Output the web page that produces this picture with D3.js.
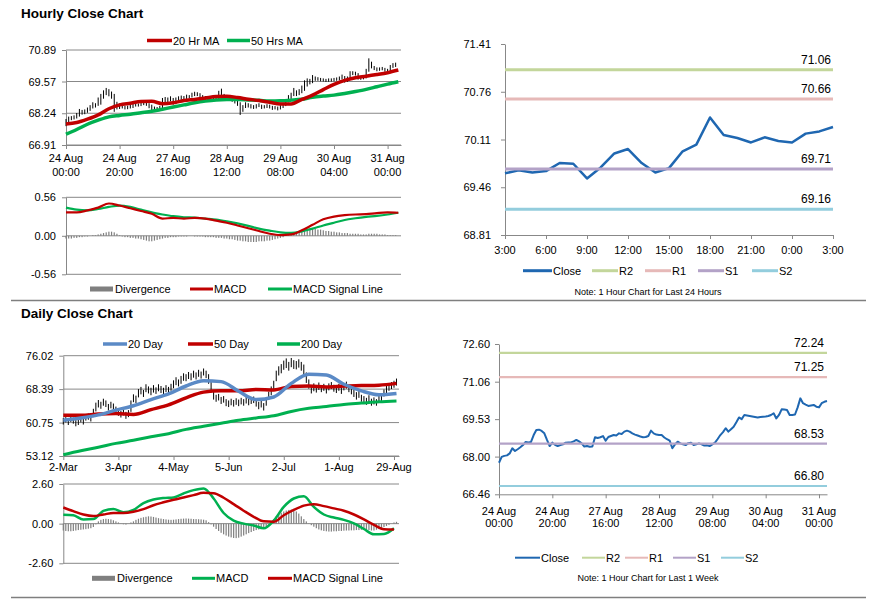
<!DOCTYPE html>
<html lang="en">
<head>
<meta charset="UTF-8">
<title>Hourly and Daily Close Charts</title>
<style>
  body { margin: 0; background: #fff; }
  text { font-family: "Liberation Sans", Arial, sans-serif; fill: #000; }
</style>
</head>
<body>
<script src="https://d3js.org/d3.v7.min.js"></script>
<script>
// ---- hourly data (last week, one value per hour) ----
const hourTickIdx = [0, 20, 40, 60, 80, 100, 120]
const hourTickLabels = [['24 Aug', '00:00'], ['24 Aug', '20:00'], ['27 Aug', '16:00'], ['28 Aug', '12:00'],
  ['29 Aug', '08:00'], ['30 Aug', '04:00'], ['31 Aug', '00:00']]
const hourPriceTicks = [66.91, 68.24, 69.57, 70.89]
const hourMacdTicks = [-0.56, 0, 0.56]

const hourClose = [67.75,67.99,68.03,68.05,68.13,68.34,68.23,68.30,68.38,68.47,
  68.60,68.58,68.60,68.88,69.09,69.10,69.05,68.95,68.68,68.43,
  68.57,68.48,68.43,68.47,68.50,68.57,68.58,68.58,68.62,68.68,
  68.62,68.54,68.41,68.43,68.40,68.41,68.79,68.76,68.79,68.84,
  68.65,68.80,68.84,68.88,68.86,68.95,68.92,69.02,69.06,69.02,
  68.95,68.90,68.86,68.82,68.79,68.80,68.84,69.06,68.95,68.90,
  68.88,68.88,68.78,68.71,68.65,68.34,68.50,68.61,68.54,68.50,
  68.47,68.55,68.57,68.47,68.50,68.54,68.50,68.45,68.46,68.43,
  68.50,68.57,68.72,68.88,69.00,69.16,69.02,69.12,69.22,69.40,
  69.60,69.53,69.70,69.68,69.66,69.64,69.62,69.60,69.62,69.63,
  69.64,69.66,69.70,69.77,69.56,69.70,69.93,69.92,69.90,69.70,
  69.70,69.72,70.01,70.38,70.18,70.12,70.07,70.09,70.11,70.04,
  70.01,70.18,70.24,70.27]
const hourHigh = [68.00,68.10,68.12,68.15,68.25,68.42,68.38,68.40,68.48,68.58,
  68.70,68.66,68.90,69.05,69.20,69.30,69.25,69.15,69.05,68.72,
  68.65,68.62,68.55,68.56,68.60,68.64,68.66,68.65,68.70,68.74,
  68.72,68.66,68.60,68.52,68.50,68.55,68.88,68.92,68.90,68.95,
  68.88,68.90,68.95,68.98,68.96,69.02,69.00,69.10,69.14,69.12,
  69.08,69.00,68.96,68.92,68.88,68.90,68.95,69.18,69.27,69.05,
  69.00,68.98,68.92,68.85,68.78,68.70,68.58,68.70,68.66,68.62,
  68.58,68.62,68.66,68.60,68.58,68.62,68.60,68.55,68.54,68.52,
  68.58,68.66,68.82,69.00,69.10,69.30,69.20,69.25,69.40,69.62,
  69.70,69.68,69.84,69.78,69.75,69.72,69.70,69.68,69.70,69.70,
  69.72,69.74,69.78,69.86,69.80,69.78,70.00,70.00,69.98,69.92,
  69.80,69.82,70.10,70.54,70.40,70.22,70.16,70.16,70.18,70.14,
  70.10,70.26,70.34,70.36]
const hourLow = [67.70,67.80,67.95,67.98,68.02,68.10,68.18,68.20,68.26,68.34,
  68.44,68.48,68.55,68.60,68.85,69.00,68.95,68.85,68.30,68.40,
  68.42,68.44,68.40,68.41,68.44,68.46,68.52,68.52,68.54,68.58,
  68.55,68.45,68.36,68.37,68.35,68.38,68.40,68.68,68.70,68.74,
  68.60,68.62,68.76,68.80,68.80,68.84,68.86,68.90,68.96,68.96,
  68.90,68.84,68.80,68.78,68.74,68.74,68.76,68.82,68.90,68.85,
  68.82,68.80,68.72,68.65,68.55,68.17,68.30,68.46,68.48,68.44,
  68.42,68.44,68.50,68.42,68.44,68.46,68.44,68.38,68.40,68.36,
  68.40,68.46,68.54,68.70,68.84,68.96,68.96,69.00,69.08,69.18,
  69.36,69.45,69.50,69.60,69.60,69.58,69.57,69.55,69.56,69.57,
  69.58,69.60,69.62,69.66,69.52,69.55,69.68,69.84,69.82,69.65,
  69.64,69.66,69.70,69.98,70.12,70.05,70.00,70.02,70.04,69.98,
  69.96,70.00,70.14,70.18]

// moving averages and MACD sampled every 4 hours
const hourStep = 4
const hourMa20 = [67.79,67.85,67.99,68.17,68.43,68.59,68.66,68.73,68.74,68.64,68.68,68.77,68.82,68.88,68.94,68.95,
  68.90,68.83,68.77,68.70,68.63,68.63,68.82,69.00,69.23,69.45,69.62,69.73,69.79,69.86,69.94,70.05]
const hourMa50 = [67.36,67.56,67.78,67.95,68.09,68.15,68.20,68.26,68.32,68.41,68.50,68.59,68.68,68.75,68.80,68.82,
  68.82,68.80,68.78,68.75,68.76,68.79,68.83,68.91,68.96,69.00,69.07,69.15,69.24,69.35,69.46,69.56]
const hourMacd = [0.34,0.34,0.37,0.41,0.47,0.44,0.40,0.36,0.32,0.25,0.26,0.25,0.26,0.25,0.22,0.19,
  0.15,0.11,0.07,0.03,0.01,0.02,0.08,0.16,0.24,0.28,0.30,0.31,0.315,0.33,0.34,0.335]
const hourSignal = [0.41,0.38,0.37,0.39,0.42,0.44,0.42,0.38,0.34,0.31,0.285,0.27,0.265,0.25,0.235,0.21,
  0.18,0.145,0.105,0.075,0.05,0.042,0.065,0.105,0.15,0.19,0.23,0.255,0.275,0.29,0.31,0.335]
const hourDiv = [-0.04,-0.04,-0.04,-0.03,-0.03,-0.02,-0.02,-0.01,
  -0.01,0.00,0.01,0.01,
  0.02,0.03,0.04,0.05,0.06,0.06,0.05,0.03,
  0.01,-0.01,-0.02,-0.02,-0.03,-0.03,-0.04,-0.04,
  -0.05,-0.06,-0.07,-0.08,-0.08,-0.07,-0.06,-0.05,
  -0.04,-0.03,-0.03,-0.02,-0.02,-0.02,-0.01,-0.01,
  -0.01,-0.01,0.00,0.00,-0.01,-0.01,-0.01,-0.01,
  -0.02,-0.02,-0.02,-0.02,-0.03,-0.03,-0.03,-0.04,
  -0.04,-0.05,-0.05,-0.06,-0.07,-0.07,-0.08,-0.08,
  -0.09,-0.09,-0.09,-0.09,-0.08,-0.08,-0.08,-0.07,
  -0.07,-0.06,-0.05,-0.04,-0.03,-0.02,0.00,0.02,
  0.03,0.04,0.05,0.06,0.07,0.08,0.09,0.09,
  0.10,0.10,0.09,0.09,0.08,0.07,0.07,0.06,
  0.06,0.05,0.05,0.04,0.04,0.04,0.03,0.03,
  0.03,0.03,0.02,0.02,0.02,0.03,0.03,0.03,
  0.03,0.02,0.02,0.02,0.01,0.01,0.01,0.01]

// ---- daily data ----
const dayTickIdx = [0, 22, 44, 66, 88, 110, 132]
const dayTickLabels = ['2-Mar', '3-Apr', '4-May', '5-Jun', '2-Jul', '1-Aug', '29-Aug']
const dayPriceTicks = [53.12, 60.75, 68.39, 76.02]
const dayMacdTicks = [-2.6, 0, 2.6]

const dayHigh = [61.8,62.0,61.6,62.3,61.9,61.3,61.6,62.1,61.7,62.6,
  62.8,62.3,63.9,65.3,65.9,65.5,66.2,65.8,65.0,65.5,
  65.1,64.4,63.8,63.4,63.9,63.2,63.6,65.8,67.2,66.9,
  68.4,68.9,68.2,69.5,69.0,68.7,69.3,68.8,69.5,69.1,
  68.7,69.3,68.9,69.6,70.4,71.1,70.6,71.4,72.0,71.8,
  72.3,72.0,72.6,72.2,72.8,72.4,73.1,72.6,71.8,70.2,
  68.0,67.1,67.3,66.6,66.8,66.1,65.8,66.2,65.9,66.3,
  66.0,66.4,66.1,66.6,66.2,66.5,66.7,66.0,65.5,65.8,
  65.2,66.4,67.8,69.0,70.3,72.6,73.6,74.1,74.9,75.4,
  74.6,75.5,75.0,74.8,75.2,74.6,74.0,72.2,70.6,69.2,
  69.7,69.3,69.9,69.3,69.6,69.1,69.7,70.0,69.4,69.2,
  69.6,69.0,69.7,70.1,69.3,68.8,68.3,67.7,68.0,67.1,
  66.8,66.4,67.0,66.2,66.5,66.1,66.8,67.3,68.3,69.1,
  69.6,70.0,70.3,70.8]
const dayLow = [60.3,60.8,60.2,60.9,60.5,59.9,60.2,60.8,60.3,61.2,
  61.4,61.0,62.0,63.3,64.2,63.9,64.6,64.3,63.5,64.0,
  63.6,62.8,62.3,61.9,62.4,61.6,62.0,63.2,65.4,65.2,
  66.5,67.2,66.6,67.7,67.4,67.0,67.6,67.3,67.9,67.5,
  67.1,67.7,67.3,68.0,68.6,69.3,69.0,69.6,70.3,70.2,
  70.7,70.4,71.0,70.6,71.2,70.8,71.5,70.9,69.6,67.6,
  66.0,65.5,65.8,65.0,65.3,64.5,64.3,64.7,64.4,64.8,
  64.5,64.9,64.6,65.1,64.7,65.0,65.2,64.4,63.8,64.2,
  63.5,64.6,65.9,67.0,68.2,70.2,71.5,72.0,72.8,73.2,
  72.6,73.4,73.0,72.9,73.3,72.6,71.5,69.8,68.5,67.4,
  67.9,67.6,68.2,67.7,68.0,67.4,68.1,68.4,67.8,67.5,
  68.0,67.3,68.1,68.5,67.7,67.2,66.6,66.0,66.4,65.5,
  65.2,64.8,65.4,64.6,64.9,64.6,65.3,65.7,66.7,67.5,
  68.0,68.4,68.7,69.2]

// moving averages sampled every 7 days, MACD every 4 days
const dayMaStep = 7
const dayMa20 = [61.3,61.8,62.5,63.6,64.6,66.0,67.3,69.1,70.3,70.1,67.9,66.0,66.6,69.7,71.8,71.6,69.5,68.0,67.1,67.4]
const dayMa50 = [62.4,62.4,62.7,62.8,62.6,63.7,64.8,66.4,67.7,68.0,68.0,68.3,68.2,69.0,69.1,68.9,69.1,69.2,69.3,69.7]
const dayMa200 = [53.4,54.3,55.1,56.0,56.7,57.5,58.2,59.2,59.9,60.6,61.3,61.8,62.3,63.3,64.0,64.4,64.9,65.2,65.5,65.7]
const dayMacdStep = 4
const dayMacd = [0.59,0.55,0.28,0.30,0.84,0.96,0.75,0.90,1.35,1.58,
  1.68,1.72,1.98,2.20,2.31,1.65,0.70,0.20,0.00,-0.12,
  -0.30,0.20,1.10,1.65,1.80,1.10,0.60,0.40,0.25,0.02,
  -0.35,-0.70,-0.68,-0.30]
const daySignal = [1.06,0.82,0.60,0.50,0.60,0.70,0.70,0.78,0.95,1.21,
  1.40,1.57,1.72,1.87,2.02,2.00,1.70,1.28,0.85,0.45,
  0.15,0.12,0.55,0.90,1.18,1.28,1.15,1.00,0.85,0.60,
  0.28,-0.08,-0.36,-0.38]
const dayDiv = [-0.45,-0.48,-0.50,-0.50,-0.48,-0.45,-0.42,-0.40,-0.38,-0.36,-0.33,-0.30,-0.22,
  -0.05,0.15,0.25,0.30,0.32,0.30,0.28,0.22,
  0.15,0.08,0.02,-0.04,-0.06,0.00,0.08,0.15,
  0.25,0.32,0.38,0.42,0.45,0.48,0.47,0.44,0.40,0.36,0.33,0.30,
  0.28,0.26,0.25,0.26,0.28,0.30,0.32,0.33,0.34,0.33,0.32,0.30,0.30,0.29,0.28,0.26,0.22,
  0.10,-0.05,-0.20,
  -0.35,-0.48,-0.60,-0.70,-0.78,-0.85,-0.90,-0.94,-0.95,-0.92,-0.85,-0.78,-0.70,-0.62,-0.55,-0.48,-0.42,-0.38,-0.34,-0.28,-0.20,-0.08,
  0.10,0.30,0.48,0.62,0.72,0.80,0.86,0.90,0.92,0.88,0.80,0.66,0.48,
  0.30,0.15,0.02,-0.10,-0.20,
  -0.30,-0.38,-0.44,-0.48,-0.50,-0.52,-0.52,-0.50,-0.50,-0.48,-0.48,-0.46,-0.45,-0.45,-0.44,-0.44,-0.42,-0.42,-0.40,-0.40,
  -0.40,-0.42,-0.45,-0.45,-0.40,-0.36,-0.30,
  -0.22,-0.15,-0.08,0.00,0.08,0.12]

// ---- last 24 hours ----
const dayHourLabels = ['3:00', '6:00', '9:00', '12:00', '15:00', '18:00', '21:00', '0:00', '3:00']
const dayHourTicks = [68.81, 69.46, 70.11, 70.76, 71.41]
const lastDayClose = [69.65,69.69,69.66,69.68,69.79,69.78,69.58,69.73,69.92,69.98,69.79,69.66,69.72,
  69.95,70.04,70.41,70.17,70.13,70.07,70.14,70.09,70.07,70.19,70.22,70.28]
const dayLevelNames = ['R2', 'R1', 'S1', 'S2']
const dayLevels = [71.06, 70.66, 69.71, 69.16]

// ---- last week levels ----
const weekTicks = [66.46, 68.00, 69.53, 71.06, 72.60]
const weekLevels = [72.24, 71.25, 68.53, 66.80]

// ---- styling ----
const font = '"Liberation Sans", Arial, sans-serif'
const gridColor = '#888'
const red = '#c00000'
const green = '#00b050'
const blue20 = '#5b8ac6'
const divGrey = '#7f7f7f'
const closeBlue = '#1f67b1'
const levelColors = ['#c3d69b', '#e6b9b8', '#b3a2c7', '#93cddd']

const svg = d3.select('body').append('svg')
  .attr('width', 873)
  .attr('height', 601)

function txt(x, y, s, size, anchor, weight) {
  return svg.append('text')
    .attr('x', x).attr('y', y)
    .attr('font-size', size || 11)
    .attr('text-anchor', anchor || 'start')
    .attr('font-weight', weight || 'normal')
    .text(s)
}

function gridY(y, ticks, x0, x1) {
  svg.append('g').selectAll('line').data(ticks).enter().append('line')
    .attr('x1', x0).attr('x2', x1)
    .attr('y1', d => y(d)).attr('y2', d => y(d))
    .attr('stroke', gridColor)
}

function leftAxis(y, x0, ticks, pad) {
  const g = svg.append('g')
    .attr('transform', `translate(${x0},0)`)
    .call(d3.axisLeft(y).tickValues(ticks).tickFormat(d => d.toFixed(2))
      .tickSize(4).tickSizeOuter(0).tickPadding(pad))
  g.attr('font-family', font).attr('font-size', 11)
  g.selectAll('line, path').attr('stroke', gridColor)
  g.selectAll('text').attr('fill', '#000')
}

function bottomAxis(x, yPos, ticks) {
  const g = svg.append('g')
    .attr('transform', `translate(0,${yPos})`)
    .call(d3.axisBottom(x).tickValues(ticks).tickSize(4).tickSizeOuter(0).tickFormat(''))
  g.selectAll('line, path').attr('stroke', gridColor)
  g.selectAll('.tick text').remove()
}

function lineSeries(data, x, y, step, color, width, curve) {
  const line = d3.line()
    .x((d, i) => x(i * step))
    .y(d => y(d))
  if (curve) line.curve(d3.curveMonotoneX)
  svg.append('path')
    .datum(data)
    .attr('d', line)
    .attr('fill', 'none')
    .attr('stroke', color)
    .attr('stroke-width', width)
    .attr('stroke-linejoin', 'round')
}

function bars(high, low, x, y) {
  svg.append('g').selectAll('line').data(high).enter().append('line')
    .attr('x1', (d, i) => x(i)).attr('x2', (d, i) => x(i))
    .attr('y1', d => y(d)).attr('y2', (d, i) => y(low[i]))
    .attr('stroke', '#000')
    .attr('stroke-width', 1)
}

function divBars(data, x, y) {
  svg.append('g').selectAll('rect').data(data).enter().append('rect')
    .attr('x', (d, i) => x(i) - 0.6)
    .attr('width', 1.2)
    .attr('y', d => Math.min(y(0), y(d)))
    .attr('height', d => Math.abs(y(d) - y(0)))
    .attr('fill', divGrey)
}

function legendLine(x, y, w, color, label, width) {
  svg.append('line')
    .attr('x1', x).attr('x2', x + w)
    .attr('y1', y).attr('y2', y)
    .attr('stroke', color).attr('stroke-width', width)
  txt(x + w + 1, y + 4, label)
}

function legendRect(x, y, w, color, label) {
  svg.append('rect')
    .attr('x', x).attr('y', y - 2.5)
    .attr('width', w).attr('height', 5)
    .attr('fill', color)
  txt(x + w + 2, y + 4, label)
}

// ---- titles & separators ----
txt(21, 17.5, 'Hourly Close Chart', 13.5, 'start', 'bold')
txt(21, 317.5, 'Daily Close Chart', 13.5, 'start', 'bold')
;[300.5, 597.5].forEach(yy => {
  svg.append('line').attr('x1', 11).attr('x2', 866).attr('y1', yy).attr('y2', yy)
    .attr('stroke', '#7f7f7f').attr('stroke-width', 1.5)
})

// ---- hourly price ----
const xH = d3.scaleLinear().domain([0, 125]).range([66, 401])
const yH = d3.scaleLinear().domain([66.91, 70.89]).range([145, 50])
gridY(yH, hourPriceTicks, 66, 401)
leftAxis(yH, 66, hourPriceTicks, 6)
bottomAxis(xH, 145, hourTickIdx)
hourTickIdx.forEach((t, i) => {
  txt(xH(t), 162, hourTickLabels[i][0], 11, 'middle')
  txt(xH(t), 176, hourTickLabels[i][1], 11, 'middle')
})
bars(hourHigh, hourLow, xH, yH)
lineSeries(hourMa50, xH, yH, hourStep, green, 3.5, true)
lineSeries(hourMa20, xH, yH, hourStep, red, 3.5, true)
legendLine(147, 40.5, 25, red, '20 Hr MA', 3.5)
legendLine(227, 40.5, 23, green, '50 Hrs MA', 3.5)

// ---- hourly MACD ----
const yHM = d3.scaleLinear().domain([-0.56, 0.56]).range([274.3, 197.3])
gridY(yHM, hourMacdTicks, 66, 401)
leftAxis(yHM, 66, hourMacdTicks, 6)
divBars(hourDiv, xH, yHM)
lineSeries(hourSignal, xH, yHM, hourStep, green, 2.2, true)
lineSeries(hourMacd, xH, yHM, hourStep, red, 2.2, true)
legendRect(90, 289, 23, divGrey, 'Divergence')
legendLine(190, 289, 23, red, 'MACD', 3)
legendLine(268, 289, 24, green, 'MACD Signal Line', 3)

// ---- daily price ----
const xDay = d3.scaleLinear().domain([0, 134]).range([63.3, 399])
const yDay = d3.scaleLinear().domain([53.12, 76.02]).range([456, 355.7])
gridY(yDay, dayPriceTicks, 63.3, 399)
leftAxis(yDay, 63.3, dayPriceTicks, 6)
bottomAxis(xDay, 456, dayTickIdx)
dayTickIdx.forEach((t, i) => txt(xDay(t), 471, dayTickLabels[i], 11, 'middle'))
bars(dayHigh, dayLow, xDay, yDay)
lineSeries(dayMa200, xDay, yDay, dayMaStep, green, 3, true)
lineSeries(dayMa50, xDay, yDay, dayMaStep, red, 3.5, true)
lineSeries(dayMa20, xDay, yDay, dayMaStep, blue20, 3.5, true)
legendLine(103, 344, 24, blue20, '20 Day', 3.5)
legendLine(188, 344, 25, red, '50 Day', 3.5)
legendLine(277, 344, 23, green, '200 Day', 3.5)

// ---- daily MACD ----
const yDM = d3.scaleLinear().domain([-2.6, 2.6]).range([563.3, 484])
gridY(yDM, dayMacdTicks, 63.3, 399)
leftAxis(yDM, 63.3, dayMacdTicks, 6)
divBars(dayDiv, xDay, yDM)
lineSeries(dayMacd, xDay, yDM, dayMacdStep, green, 2.5, true)
lineSeries(daySignal, xDay, yDM, dayMacdStep, red, 2.5, true)
legendRect(92, 578.3, 23, divGrey, 'Divergence')
legendLine(192, 578.3, 23, green, 'MACD', 3)
legendLine(268, 578.3, 24, red, 'MACD Signal Line', 3)

// ---- last 24 hours with pivot levels ----
const xL = d3.scaleLinear().domain([0, 24]).range([505, 833])
const yL = d3.scaleLinear().domain([68.81, 71.41]).range([235, 44])
leftAxis(yL, 505, dayHourTicks, 10)
bottomAxis(xL, 235, dayHourLabels.map((d, i) => i * 3))
dayHourLabels.forEach((s, i) => txt(xL(i * 3), 254, s, 11, 'middle'))
lineSeries(lastDayClose, xL, yL, 1, closeBlue, 2.5, false)
dayLevels.forEach((v, i) => {
  svg.append('line').attr('x1', 505).attr('x2', 833).attr('y1', yL(v)).attr('y2', yL(v))
    .attr('stroke', levelColors[i]).attr('stroke-width', 3)
  txt(831, yL(v) - 6, v.toFixed(2), 12, 'end')
})
legendLine(523, 270.7, 29, closeBlue, 'Close', 3)
dayLevelNames.forEach((n, i) => legendLine([592, 645, 698, 752][i], 270.7, 26, levelColors[i], n, 3))
txt(648, 294.5, 'Note: 1 Hour Chart for Last 24 Hours', 9, 'middle')

// ---- last week hourly close with pivot levels ----
const xW = d3.scaleLinear().domain([0, 123]).range([499, 827])
const yW = d3.scaleLinear().domain([66.46, 72.60]).range([494.3, 344])
leftAxis(yW, 499, weekTicks, 5)
bottomAxis(xW, 494.3, hourTickIdx)
hourTickIdx.forEach((t, i) => {
  txt(xW(t), 515, hourTickLabels[i][0], 11, 'middle')
  txt(xW(t), 527, hourTickLabels[i][1], 11, 'middle')
})
lineSeries(hourClose, xW, yW, 1, closeBlue, 2, false)
weekLevels.forEach((v, i) => {
  svg.append('line').attr('x1', 499).attr('x2', 827).attr('y1', yW(v)).attr('y2', yW(v))
    .attr('stroke', levelColors[i]).attr('stroke-width', 2.2)
  txt(824, yW(v) - 6, v.toFixed(2), 12, 'end')
})
legendLine(515, 557.7, 25, closeBlue, 'Close', 2)
dayLevelNames.forEach((n, i) => legendLine([582, 625, 673, 721][i], 557.7, 23, levelColors[i], n, 2))
txt(648, 581, 'Note: 1 Hour Chart for Last 1 Week', 9, 'middle')
</script>
</body>
</html>
